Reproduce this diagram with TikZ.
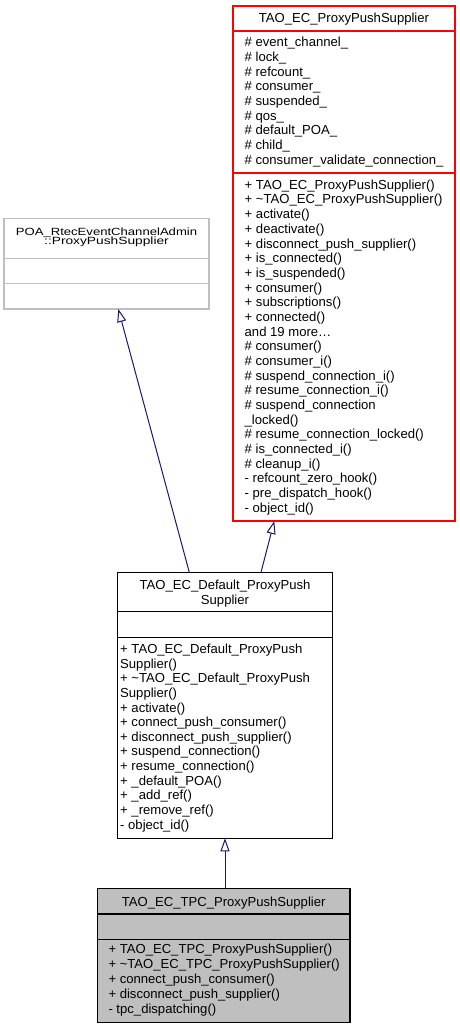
\documentclass[tikz,border=0pt]{standalone}
\usepackage{fontspec}
\setmainfont{Liberation Sans}
\usetikzlibrary{arrows.meta,calc}
\definecolor{edgeblue}{HTML}{191970}
\definecolor{boxred}{HTML}{FF0000}
\definecolor{boxgrey}{HTML}{BFBFBF}
\definecolor{lightborder}{HTML}{BFBFBF}
\begin{document}
\begin{tikzpicture}[x=1pt,y=-1pt,
  box/.style={draw, line width=1.4pt, inner sep=0pt, outer sep=0pt, anchor=north west},
  sep/.style={line width=1.4pt},
  txt/.style={anchor=base west, inner sep=0pt, font=\fontsize{13.1}{14.67}\selectfont},
  ttl/.style={anchor=base, inner sep=0pt, font=\fontsize{13.1}{14.67}\selectfont},
  inh/.style={draw=edgeblue, line width=1pt, -{Triangle[open, length=13pt, width=9pt]}}]
\useasboundingbox[fill=white] (0,0) rectangle (460,1029);

% ---------- TAO_EC_ProxyPushSupplier ----------
\node[box, draw=boxred, minimum width=222pt, minimum height=515pt] (pps) at (233,6) {};
\draw[sep, boxred] ($(pps.north west)+(0,25)$) -- ($(pps.north east)+(0,25)$);
\draw[sep, boxred] ($(pps.north west)+(0,167)$) -- ($(pps.north east)+(0,167)$);
\node[ttl] (ppst) at (344,22.7) {TAO\_EC\_ProxyPushSupplier};
\foreach \t [count=\i] in {
  \# event\_channel\_, \# lock\_, \# refcount\_, \# consumer\_, \# suspended\_,
  \# qos\_, \# default\_POA\_, \# child\_, \# consumer\_validate\_connection\_}
  \node[txt, name=ppsa\i] at (244.5,{46.7+14.67*(\i-1)}) {\t};
\foreach \t [count=\i] in {
  + TAO\_EC\_ProxyPushSupplier(), + \textasciitilde TAO\_EC\_ProxyPushSupplier(),
  + activate(), + deactivate(), + disconnect\_push\_supplier(), + is\_connected(),
  + is\_suspended(), + consumer(), + subscriptions(), + connected(),
  {and 19 more\ldots}, \# consumer(), \# consumer\_i(), \# suspend\_connection\_i(),
  \# resume\_connection\_i(), \# suspend\_connection, \_locked(),
  \# resume\_connection\_locked(), \# is\_connected\_i(), \# cleanup\_i(),
  - refcount\_zero\_hook(), - pre\_dispatch\_hook(), - object\_id()}
  \node[txt, name=ppsm\i] at (244.5,{189.3+14.68*(\i-1)}) {\t};

% ---------- POA_RtecEventChannelAdmin::ProxyPushSupplier ----------
\node[box, draw=lightborder, minimum width=205pt, minimum height=90.7pt] (poa) at (4,218.3) {};
\draw[sep, lightborder] ($(poa.north west)+(0,40)$) -- ($(poa.north east)+(0,40)$);
\draw[sep, lightborder] ($(poa.north west)+(0,65)$) -- ($(poa.north east)+(0,65)$);
\node[ttl] (poat1) at (106.5,235.3) {\scalebox{1}[0.8]{POA\_RtecEventChannelAdmin}};
\node[ttl] (poat2) at (106.5,244.7) {\scalebox{1.05}[0.8]{::ProxyPushSupplier}};

% ---------- TAO_EC_Default_ProxyPushSupplier ----------
\node[box, minimum width=215.4pt, minimum height=266pt] (mid) at (117.3,572.3) {};
\draw[sep] ($(mid.north west)+(0,39.4)$) -- ($(mid.north east)+(0,39.4)$);
\draw[sep] ($(mid.north west)+(0,65.4)$) -- ($(mid.north east)+(0,65.4)$);
\node[ttl] (midt1) at (225,589.3) {TAO\_EC\_Default\_ProxyPush};
\node[ttl] (midt2) at (225,604) {Supplier};
\foreach \t [count=\i] in {
  + TAO\_EC\_Default\_ProxyPush, Supplier(), + \textasciitilde TAO\_EC\_Default\_ProxyPush,
  Supplier(), + activate(), + connect\_push\_consumer(), + disconnect\_push\_supplier(),
  + suspend\_connection(), + resume\_connection(), + \_default\_POA(), + \_add\_ref(),
  + \_remove\_ref(), - object\_id()}
  \node[txt, name=midm\i] at (120,{653.5+14.64*(\i-1)}) {\t};

% ---------- TAO_EC_TPC_ProxyPushSupplier ----------
\node[box, fill=boxgrey, minimum width=252.7pt, minimum height=134.4pt] (tpc) at (97.3,888.3) {};
\draw[sep] ($(tpc.north west)+(0,25.7)$) -- ($(tpc.north east)+(0,25.7)$);
\draw[sep] ($(tpc.north west)+(0,51)$) -- ($(tpc.north east)+(0,51)$);
\node[ttl] (tpct) at (223.7,906.5) {TAO\_EC\_TPC\_ProxyPushSupplier};
\foreach \t [count=\i] in {
  + TAO\_EC\_TPC\_ProxyPushSupplier(), + \textasciitilde TAO\_EC\_TPC\_ProxyPushSupplier(),
  + connect\_push\_consumer(), + disconnect\_push\_supplier(), - tpc\_dispatching()}
  \node[txt, name=tpcm\i] at (108.3,{953.5+14.9*(\i-1)}) {\t};

% ---------- inheritance connectors ----------
\draw[inh] ($(mid.north west)+(72,0)$) -- ($(poa.south west)+(114.3,0)$);
\draw[inh] ($(mid.north west)+(143.7,0)$) -- ($(pps.south west)+(41.3,0)$);
\draw[inh] (tpc.north -| mid.south) -- (mid.south);
\end{tikzpicture}
\end{document}
